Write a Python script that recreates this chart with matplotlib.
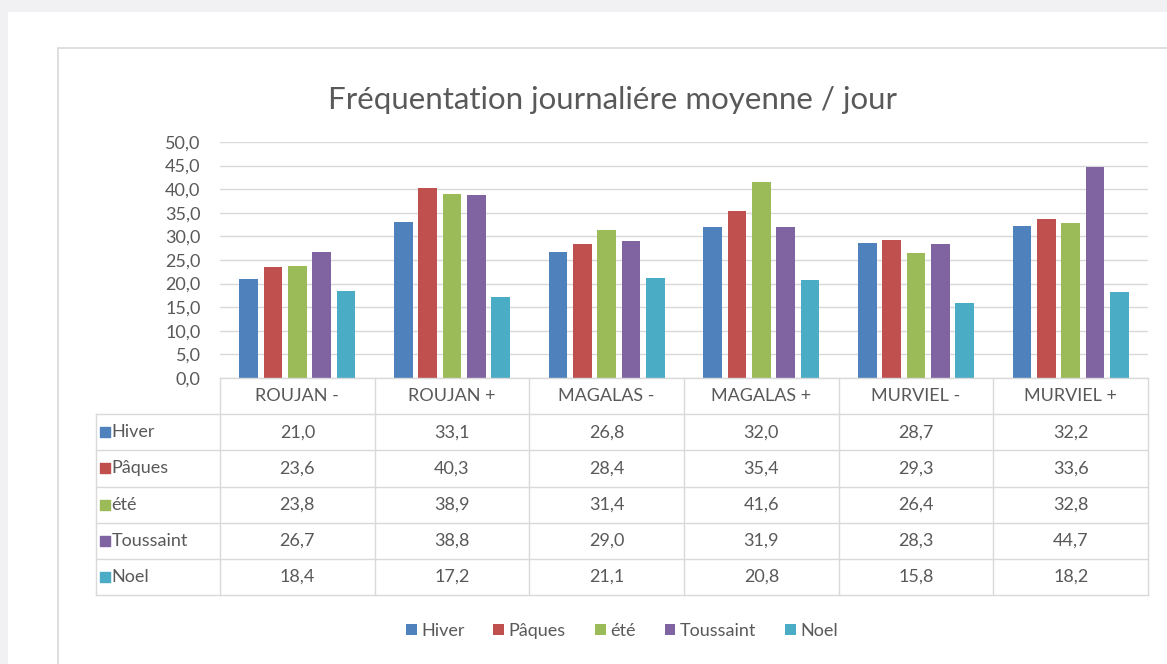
import numpy as np
import matplotlib.pyplot as plt
from matplotlib.patches import Rectangle

plt.rcParams['font.family'] = ['Lato', 'DejaVu Sans']

# data
categories = ['ROUJAN -', 'ROUJAN +', 'MAGALAS -', 'MAGALAS +', 'MURVIEL -', 'MURVIEL +']
series = ['Hiver', 'Pâques', 'été', 'Toussaint', 'Noel']
hiver = [21.0, 33.1, 26.8, 32.0, 28.7, 32.2]
paques = [23.6, 40.3, 28.4, 35.4, 29.3, 33.6]
ete = [23.8, 38.9, 31.4, 41.6, 26.4, 32.8]
toussaint = [26.7, 38.8, 29.0, 31.9, 28.3, 44.7]
noel = [18.4, 17.2, 21.1, 20.8, 15.8, 18.2]
values = [hiver, paques, ete, toussaint, noel]
colors = ['#4F81BD', '#C0504D', '#9BBB59', '#8064A2', '#4BACC6']
yticks = np.arange(0, 55, 5)

W, H = 1167, 664
txt = '#595959'
line_c = '#d9d9d9'

fig = plt.figure(figsize=(W / 100, H / 100), dpi=100)
fig.patch.set_facecolor('#f1f1f4')


def px_axes(x0, y0, x1, y1, **kw):
    # pixel box (top-left origin) -> figure axes
    return fig.add_axes([x0 / W, 1 - y1 / H, (x1 - x0) / W, (y1 - y0) / H], **kw)


# background panel and chart frame
bg = px_axes(0, 0, W, H, zorder=-10)
bg.set_xlim(0, W)
bg.set_ylim(H, 0)
bg.axis('off')
bg.add_patch(Rectangle((8, 12), W, H, facecolor='white', edgecolor='none'))
bg.add_patch(Rectangle((58, 48), W + 20, H, facecolor='white', edgecolor=line_c, lw=1.2))

bg.text(612, 100, 'Fréquentation journaliére moyenne / jour', ha='center', va='center',
        fontsize=22.5, color=txt)

# bar chart
ax = px_axes(220, 142, 1148, 378)
x = np.arange(len(categories))
slot = 0.157
bw = 0.12
handles = []
for k, (name, vals, c) in enumerate(zip(series, values, colors)):
    b = ax.bar(x + (k - 2) * slot, vals, width=bw, color=c, label=name, zorder=3)
    handles.append(b)
ax.set_xlim(-0.5, len(categories) - 0.5)
ax.set_ylim(0, 50)
ax.set_yticks(yticks)
ax.set_yticklabels([f'{v:.1f}'.replace('.', ',') for v in yticks], fontsize=13, color=txt)
ax.set_xticks([])
ax.tick_params(axis='y', length=0, pad=14)
ax.grid(axis='y', color=line_c, lw=1, zorder=0)
for s in ax.spines.values():
    s.set_visible(False)

# data table under the chart
tax = px_axes(220, 378, 1148, 595)
tax.set_xlim(-0.5, len(categories) - 0.5)
tax.set_ylim(6, 0)
tax.axis('off')
left = -0.5 - (222 - 98) / 154.7
kw = dict(color=line_c, lw=1, clip_on=False)
# horizontal lines
tax.plot([-0.5, 5.5], [0, 0], **kw)
for r in range(1, 7):
    tax.plot([left, 5.5], [r, r], **kw)
# vertical lines
tax.plot([left, left], [1, 6], **kw)
for i in range(len(categories) + 1):
    tax.plot([i - 0.5, i - 0.5], [0, 6], **kw)
for i, cat in enumerate(categories):
    tax.text(i, 0.5, cat, ha='center', va='center', fontsize=13, color=txt)
for r, (name, vals, c) in enumerate(zip(series, values, colors), start=1):
    tax.scatter([left + 0.06], [r + 0.5], marker='s', s=50, color=c, clip_on=False)
    tax.text(left + 0.1, r + 0.5, name, ha='left', va='center', fontsize=13, color=txt)
    for i, v in enumerate(vals):
        tax.text(i, r + 0.5, f'{v:.1f}'.replace('.', ','), ha='center', va='center',
                 fontsize=13, color=txt)

fig.legend(handles=handles, labels=series, loc='center', bbox_to_anchor=(622 / W, 1 - 631 / H),
           ncol=5, frameon=False, fontsize=13, labelcolor=txt, handlelength=0.6,
           handleheight=0.6, handletextpad=0.25, columnspacing=1.6)

fig.savefig('out.png', dpi=100, facecolor=fig.get_facecolor())
